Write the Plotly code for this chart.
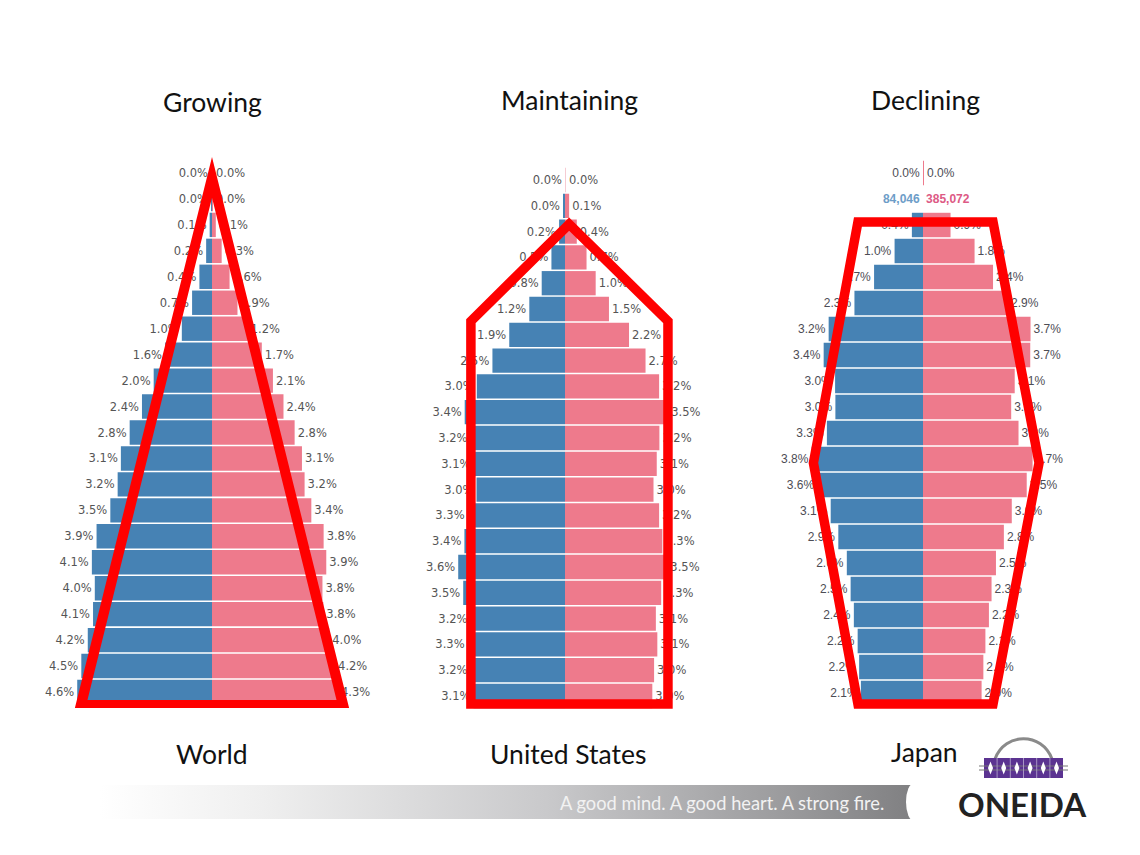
import plotly.graph_objects as go

W, H = 1140, 855

# age bands, oldest first (same order as the value lists below)
age_groups = ["100+", "95-99", "90-94", "85-89", "80-84", "75-79", "70-74", "65-69", "60-64", "55-59", "50-54",
              "45-49", "40-44", "35-39", "30-34", "25-29", "20-24", "15-19", "10-14", "5-9", "0-4"]

world_male = [0.01, 0.03, 0.08, 0.20, 0.43, 0.68, 1.03, 1.60, 1.99, 2.39, 2.81,
              3.11, 3.22, 3.47, 3.94, 4.10, 4.00, 4.06, 4.24, 4.46, 4.60]
world_female = [0.01, 0.03, 0.13, 0.33, 0.60, 0.87, 1.22, 1.70, 2.08, 2.44, 2.82,
                3.07, 3.16, 3.39, 3.81, 3.90, 3.77, 3.80, 4.00, 4.20, 4.30]

us_male = [0.001, 0.04, 0.20, 0.46, 0.79, 1.21, 1.89, 2.46, 2.99, 3.40, 3.20,
           3.10, 3.00, 3.30, 3.41, 3.62, 3.45, 3.20, 3.30, 3.20, 3.10]
us_female = [0.02, 0.14, 0.40, 0.73, 1.04, 1.49, 2.17, 2.73, 3.19, 3.50, 3.20,
             3.11, 3.00, 3.19, 3.30, 3.47, 3.26, 3.08, 3.13, 3.02, 2.96]

japan_male = [0.001, 0.001, 0.38, 0.97, 1.67, 2.34, 3.22, 3.39, 3.00, 2.99, 3.28,
              3.80, 3.60, 3.15, 2.89, 2.60, 2.47, 2.36, 2.23, 2.18, 2.12]
japan_female = [0.03, 0.001, 0.94, 1.76, 2.39, 2.90, 3.67, 3.66, 3.13, 3.01, 3.26,
                3.74, 3.54, 3.03, 2.76, 2.49, 2.34, 2.25, 2.13, 2.06, 2.00]
japan_callout = ("<b>84,046</b>", "<b>385,072</b>")

# hand drawn red outlines, in axis units (percent, row number from the bottom)
world_outer_x = [0, -4.68, 4.68, 0]
world_outer_y = [20.62, -0.62, -0.62, 20.62]
world_inner_x = [0, 4.25, -4.25, 0]
world_inner_y = [19.05, -0.31, -0.31, 19.05]
us_outline_x = [0.14, -3.19, -3.19, 0.14, 3.49, 3.49, 0.14]
us_outline_y = [-0.31, -0.31, 14.53, 18.29, 14.53, -0.31, -0.31]
japan_outline_x = [0, -2.22, -3.74, -2.22, 2.39, 3.96, 2.39, 0]
japan_outline_y = [-0.42, -0.42, 8.85, 18.12, 18.12, 8.85, -0.42, -0.42]

BLUE = "#4682b4"
PINK = "#ee7a8c"
RED = "#ff0000"
CLEAR = "rgba(0,0,0,0)"

rows = list(range(len(age_groups)))[::-1]


def pct(values):
    return [f"{v:.1f}%" for v in values]


def add_pyramid(fig, male, female, n, font, male_colors=BLUE, female_colors=PINK, male_text=None, female_text=None):
    ax = dict(xaxis=f"x{n}", yaxis=f"y{n}")
    fig.add_trace(go.Bar(y=rows, x=[-v for v in male], orientation="h", width=0.94, marker_color=male_colors, marker_line_width=0,
                         text=male_text or pct(male), textposition="outside", cliponaxis=False, constraintext="none",
                         textangle=0, textfont=font, hovertext=age_groups, **ax))
    fig.add_trace(go.Bar(y=rows, x=female, orientation="h", width=0.94, marker_color=female_colors, marker_line_width=0,
                         text=female_text or pct(female), textposition="outside", cliponaxis=False, constraintext="none",
                         textangle=0, textfont=font, hovertext=age_groups, **ax))


fig = go.Figure()

plain_font = dict(family="DejaVu Sans", size=11.5, color="#555555")
japan_font = dict(family="Liberation Sans", size=12, color="#4d4d55")

add_pyramid(fig, world_male, world_female, 1, plain_font)
# the top rows only show a faint pink line
add_pyramid(fig, us_male, us_female, 2, plain_font, [CLEAR] + [BLUE] * 20, ["#f6ccd3"] + [PINK] * 20)

japan_male_text = pct(japan_male)
japan_female_text = pct(japan_female)
japan_male_text[1] = japan_callout[0]
japan_female_text[1] = japan_callout[1]
add_pyramid(fig, japan_male, japan_female, 3, japan_font, [CLEAR, CLEAR] + [BLUE] * 19, [PINK, CLEAR] + [PINK] * 19,
            japan_male_text, japan_female_text)
# the hovered row is coloured in the Japan panel
fig.data[4].textfont.color = ["#4d4d55"] + ["#6d9dc8"] + ["#4d4d55"] * 19
fig.data[5].textfont.color = ["#4d4d55"] + ["#dd5a85"] + ["#4d4d55"] * 19

# outlines
fig.add_trace(go.Scatter(x=world_outer_x + world_inner_x, y=world_outer_y + world_inner_y, mode="none", fill="toself",
                         fillcolor=RED, cliponaxis=False, xaxis="x1", yaxis="y1"))
fig.add_trace(go.Scatter(x=us_outline_x, y=us_outline_y, mode="lines", line=dict(color=RED, width=9.5),
                         cliponaxis=False, xaxis="x2", yaxis="y2"))
fig.add_trace(go.Scatter(x=japan_outline_x, y=japan_outline_y, mode="lines", line=dict(color=RED, width=9.5),
                         cliponaxis=False, xaxis="x3", yaxis="y3"))

# footer band on a full page axis measured in pixels
fig.add_trace(go.Scatter(x=[100, 912, 912, 100, 100], y=[785, 785, 819, 819, 785], mode="none", fill="toself",
                         fillgradient=dict(type="horizontal",
                                           colorscale=[[0, "#ffffff"], [0.2, "#efefef"], [0.55, "#c9c9cb"],
                                                       [0.85, "#9a9a9c"], [1, "#808082"]]),
                         xaxis="x4", yaxis="y4"))

shapes = [
    dict(type="circle", x0=906, x1=922, y0=783, y1=821, fillcolor="white", line_width=0),
    dict(type="path", path="M 995 759 C 1005 732, 1042 732, 1052 759", line=dict(color="#8a8a8a", width=3)),
    dict(type="rect", x0=984, x1=1063, y0=758, y1=778, fillcolor="#5b3391", line_width=0),
    dict(type="line", x0=979, x1=1068, y0=766, y1=766, line=dict(color="#777777", width=1)),
    dict(type="line", x0=979, x1=1068, y0=770, y1=770, line=dict(color="#777777", width=1)),
]
for i in range(6):
    cx = 990.5 + i * 13.2
    shapes.append(dict(type="path", path=f"M {cx} 761.5 L {cx + 2.5} 768 L {cx} 774.5 L {cx - 2.5} 768 Z",
                       fillcolor="white", line_width=0))
    if i:
        shapes.append(dict(type="line", x0=cx - 6.6, x1=cx - 6.6, y0=758, y1=778, line=dict(color="#a794c4", width=1)))
for s in shapes:
    s.update(xref="x4", yref="y4", layer="above")

titles = [("Growing", 212, 102), ("Maintaining", 569, 100), ("Declining", 925, 100),
          ("World", 212, 754), ("United States", 568, 754), ("Japan", 924, 752)]
annotations = [dict(text=t, x=x, y=y, font=dict(family="Lato", size=26.5, color="#111111")) for t, x, y in titles]
annotations.append(dict(text="A good mind. A good heart. A strong fire.", x=722, y=803,
                        font=dict(family="Lato", size=18.3, color="#f2f2f2")))
annotations.append(dict(text="<b>ONEIDA</b>", x=1022, y=804, font=dict(family="Lato", size=33, color="#222222")))
for a in annotations:
    a.update(xref="x4", yref="y4", showarrow=False, xanchor="center", yanchor="middle")


def panel(center, scale, y_zero, pitch):
    half = 175
    x_axis = dict(domain=[(center - half) / W, (center + half) / W], range=[-half / scale, half / scale], visible=False)
    top = y_zero - 21.5 * pitch
    bottom = y_zero + 1.5 * pitch
    y_axis = dict(domain=[1 - bottom / H, 1 - top / H], range=[-1.5, 21.5], visible=False)
    return x_axis, y_axis


x1, y1 = panel(212, 29.3, 692, 25.95)
x2, y2 = panel(565, 29.5, 696, 25.8)
x3, y3 = panel(923, 29.3, 693, 26.0)

fig.update_layout(
    width=W, height=H, margin=dict(l=0, r=0, t=0, b=0), paper_bgcolor="white", plot_bgcolor="rgba(0,0,0,0)",
    showlegend=False, barmode="relative",
    xaxis=dict(x1, anchor="y"), yaxis=dict(y1, anchor="x"),
    xaxis2=dict(x2, anchor="y2"), yaxis2=dict(y2, anchor="x2"),
    xaxis3=dict(x3, anchor="y3"), yaxis3=dict(y3, anchor="x3"),
    xaxis4=dict(domain=[0, 1], range=[0, W], visible=False, anchor="y4"),
    yaxis4=dict(domain=[0, 1], range=[H, 0], visible=False, anchor="x4"),
    shapes=shapes, annotations=annotations,
)

fig.write_html("out.html", config={"displayModeBar": False}, post_script="document.body.style.margin='0';")
